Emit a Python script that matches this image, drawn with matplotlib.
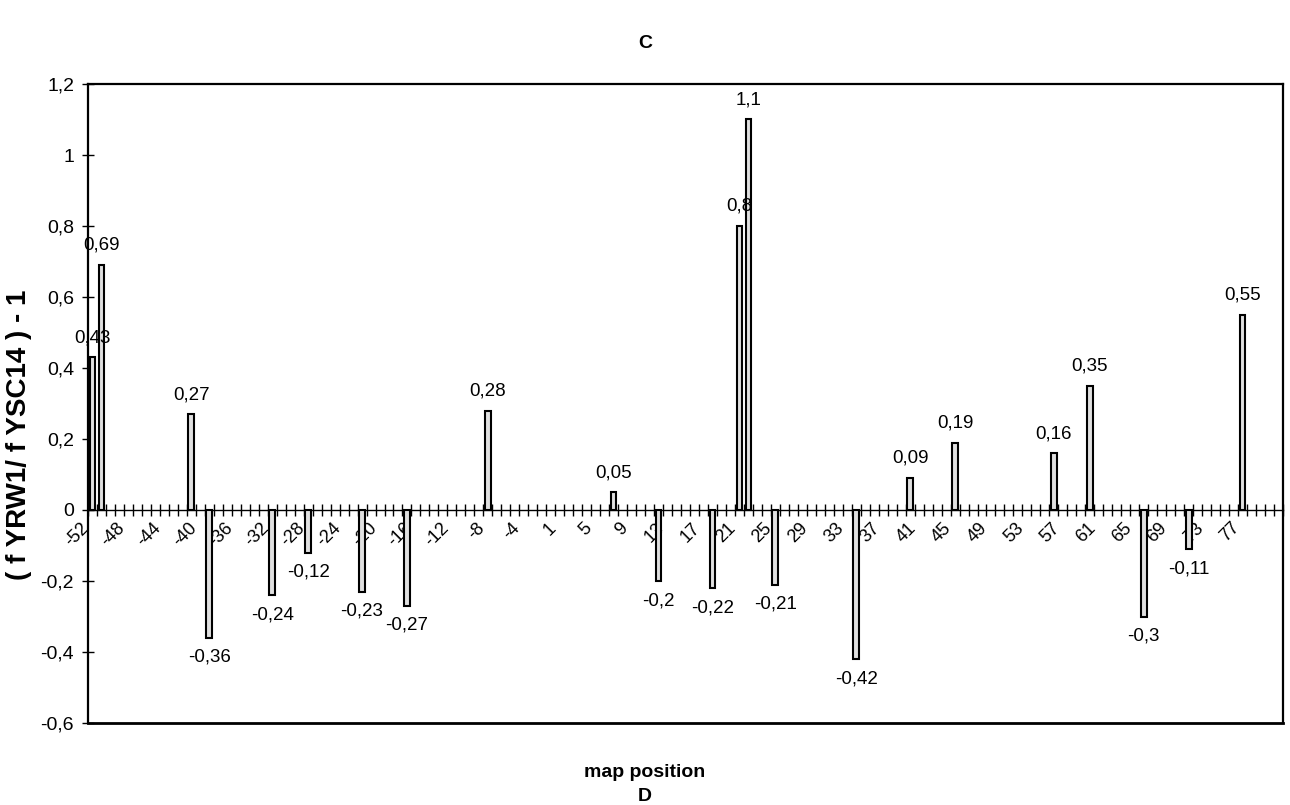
import matplotlib
matplotlib.use("Agg")
import matplotlib.pyplot as plt
import matplotlib.transforms as mtrans
from matplotlib.ticker import FuncFormatter
import numpy as np

plt.rcParams['font.family'] = ['Liberation Sans', 'DejaVu Sans']

# map positions on the category axis (there is no position 0)
positions = list(range(-52, 0)) + list(range(1, 82))
# positions that carry a bar and their values
bar_pos = [-52, -51, -41, -39, -32, -28, -22, -17, -8, 7, 12, 18, 21, 22, 25,
           34, 40, 45, 56, 60, 66, 71, 77]
bar_val = [0.43, 0.69, 0.27, -0.36, -0.24, -0.12, -0.23, -0.27, 0.28, 0.05,
           -0.2, -0.22, 0.8, 1.1, -0.21, -0.42, 0.09, 0.19, 0.16, 0.35, -0.3,
           -0.11, 0.55]
# every 4th position gets a label (last slot has none)
label_pos = positions[:-1][::4]
y_ticks = [-0.6, -0.4, -0.2, 0, 0.2, 0.4, 0.6, 0.8, 1, 1.2]


def comma(v):
    return ('%g' % round(v, 2)).replace('.', ',')


fig = plt.figure(figsize=(12.9, 8.05), dpi=100)
ax = fig.add_axes([88 / 1290, 1 - 723 / 805, (1283 - 88) / 1290, (723 - 84) / 805])

idx = [positions.index(p) for p in bar_pos]
ax.bar(idx, bar_val, width=0.64, color='#e0e0e0', edgecolor='black',
       linewidth=1.5, zorder=3)

for i, v in zip(idx, bar_val):
    if v >= 0:
        ax.annotate(comma(v), (i, v), xytext=(0, 8), textcoords='offset points',
                    ha='center', va='bottom', fontsize=13.5)
    else:
        ax.annotate(comma(v), (i, v), xytext=(0, -8), textcoords='offset points',
                    ha='center', va='top', fontsize=13.5)

ax.set_xlim(-0.5, len(positions) - 0.5)
ax.set_ylim(-0.6, 1.2)

# category axis crosses at zero
ax.spines['bottom'].set_position(('data', 0))
ax.spines['bottom'].set_linewidth(1.0)
for s in ['left', 'right', 'top']:
    ax.spines[s].set_linewidth(1.6)
ax.axhline(-0.6, color='black', linewidth=2.0, clip_on=False)

ax.set_xticks([positions.index(p) for p in label_pos])
ax.set_xticklabels([str(p) for p in label_pos], rotation=45, ha='right',
                   va='center', rotation_mode='anchor', fontsize=13)
ax.set_xticks(np.arange(len(positions) + 1) - 0.5, minor=True)
ax.tick_params(axis='x', which='major', length=0, pad=11)
ax.tick_params(axis='x', which='minor', direction='inout', length=9, width=1)
shift = mtrans.ScaledTranslation(-6 / 100, 0, fig.dpi_scale_trans)
for lbl in ax.get_xticklabels():
    lbl.set_transform(lbl.get_transform() + shift)

ax.set_yticks(y_ticks)
ax.yaxis.set_major_formatter(FuncFormatter(lambda v, p: comma(v)))
ax.tick_params(axis='y', direction='inout', length=8, width=1, labelsize=14, pad=6)

fig.text(19 / 1290, 1 - 435 / 805, '( f YRW1/ f YSC14 ) - 1', rotation=90,
         ha='center', va='center', fontsize=20, fontweight='bold')
fig.text(645 / 1290, 1 - 772 / 805, 'map position', ha='center', va='center',
         fontsize=14, fontweight='bold')
fig.text(645 / 1290, 1 - 44 / 805, 'C', ha='center', va='center',
         fontsize=14, fontweight='bold')
fig.text(645 / 1290, 1 - 796 / 805, 'D', ha='center', va='center',
         fontsize=14, fontweight='bold')

fig.savefig('out.png', dpi=100)
